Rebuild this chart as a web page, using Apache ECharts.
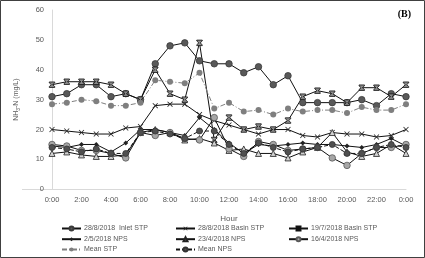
<!DOCTYPE html>
<html>
<head>
<meta charset="utf-8">
<script src="https://cdn.jsdelivr.net/npm/echarts@6/dist/echarts.min.js"></script>
<style>
	html, body { margin: 0; padding: 0; background: #fff; }
	#echart { width: 425px; height: 258px; }
</style>
</head>
<body>
<div id="echart"></div>
<script>
	// hourly samples, 0:00 .. 0:00 next day
	var hours = ['0:00','1:00','2:00','3:00','4:00','5:00','6:00','7:00','8:00','9:00','10:00','11:00',
		'12:00','13:00','14:00','15:00','16:00','17:00','18:00','19:00','20:00','21:00','22:00','23:00','0:00'];

	var inletSTP0828 = [31,32,35,35,31,32,30,42,48,49,43,42,42,39,41,35,38,29,29,29,29,30,28,32,31];
	var basinSTP0828 = [20,19.5,19,18.5,18.5,20.5,21,28,28.5,28.5,25,23,21.5,20,18.5,20,20,18,17.5,19,18.5,18.5,17.5,18,20];
	var basinSTP0719 = [35,36,36,36,35,32,30,40,32,30,49,16.5,24,20,21,20,23,31,33,32,29,34,34,31,35];
	var nps0205 = [14.5,14,15,15,12.5,15.5,20,20,19,18,24,20,15.5,12,15,14.5,15,15.5,15,15,14.5,14,15,17,14.5];
	var nps2304 = [12,12.5,11.5,11,11,11.5,19,20,19,16.5,17,15.5,13,13.5,12,12,10.5,12.5,14,19,12.5,11,12,15,12];
	var nps1604 = [15,14.5,13,13,12,10.5,19,18,19,17,16.5,24,13.5,11,16,15,13,13.5,14,10.5,8,12,14,14,15];
	var meanSTP = [28.5,29,30,29.5,28,28,29,36.5,36,35.5,39,27,29,26,26.5,25,27,26,26.5,26.5,25.5,27.5,26.5,26.5,28.5];
	var meanNPS = [14,13.5,12.5,13.5,12,12,19,19.5,18.5,17,19.5,19.5,15,12,15.5,14,12.5,13.5,14,15,12,12,14,15,14];

	// legend rows, 3 columns each
	var legendRows = [
		['28/8/2018  Inlet STP', '28/8/2018 Basin STP', '19/7/2018 Basin STP'],
		['2/5/2018 NPS', '23/4/2018 NPS', '16/4/2018 NPS'],
		['Mean STP', 'Mean NPS']
	];

	var yTicks = { min: 0, max: 60, interval: 10 };

	var txtColor = '#595959';
	var font = 'Liberation Sans, Arial, sans-serif';

	// marker shapes
	var xPath = 'path://M0,1L1,0L5,4L9,0L10,1L6,5L10,9L9,10L5,6L1,10L0,9L4,5Z';
	var bowPath = 'path://M0,0H10V1.6L6.2,5L10,8.4V10H0V8.4L3.8,5L0,1.6Z';

	/*
		build one line series
		@name, @data, @symbol, @size, @fill, @border, @lineType, @lineColor
	*/
	function mkSeries(name, data, symbol, size, fill, border, lineType, lineColor) {
		return {
			name: name,
			type: 'line',
			data: data,
			symbol: symbol,
			symbolSize: size,
			showAllSymbol: true,
			lineStyle: {
				color: lineColor || '#111',
				width: 1,
				type: lineType || 'solid'
			},
			itemStyle: {
				color: fill,
				borderColor: border,
				borderWidth: border ? 0.8 : 0
			}
		};
	}

	var chart = echarts.init(document.getElementById('echart'), null, { renderer: 'canvas' });

	// one legend per entry so the columns line up like a table
	var colLeft = [61, 175, 288];
	var rowTop = [225, 235.7, 246];
	var legends = [];
	for (var r = 0; r < legendRows.length; r++) {
		for (var c = 0; c < legendRows[r].length; c++) {
			legends.push({
				left: colLeft[c],
				top: rowTop[r],
				padding: 0,
				itemWidth: 19,
				itemHeight: 5,
				textStyle: { fontSize: 7, color: txtColor, fontFamily: font, padding: [0, 0, 0, -2] },
				data: [legendRows[r][c]]
			});
		}
	}

	var option = {
		animation: false,
		backgroundColor: '#fff',
		title: {
			text: '(B)',
			right: 9,
			top: 4,
			textStyle: { fontSize: 10, fontWeight: 'bold', color: '#000', fontFamily: 'Liberation Serif, Times New Roman, serif' }
		},
		grid: {
			left: 52,
			right: 19,
			top: 10,
			bottom: 68.7
		},
		legend: legends,
		xAxis: {
			type: 'category',
			boundaryGap: false,
			data: hours,
			name: 'Hour',
			nameLocation: 'middle',
			nameGap: 25,
			nameTextStyle: { fontSize: 8, color: txtColor, fontFamily: font },
			axisLine: { lineStyle: { color: '#d9d9d9', width: 1 } },
			axisTick: { show: false },
			axisLabel: { interval: 1, fontSize: 7.5, color: txtColor, fontFamily: font, margin: 7 },
			splitLine: { show: false }
		},
		yAxis: {
			type: 'value',
			min: yTicks.min,
			max: yTicks.max,
			interval: yTicks.interval,
			name: '{n|NH}{s|3}{n|-N (mg/L)}',
			nameLocation: 'middle',
			nameGap: 31,
			nameTextStyle: {
				color: txtColor,
				fontFamily: font,
				rich: {
					n: { fontSize: 7, color: txtColor, fontFamily: font },
					s: { fontSize: 5, color: txtColor, fontFamily: font, verticalAlign: 'bottom', padding: [4, 0, 0, 0] }
				}
			},
			axisLine: { show: true, lineStyle: { color: '#d9d9d9', width: 1 } },
			axisTick: { show: false },
			axisLabel: { fontSize: 7.5, color: txtColor, fontFamily: font, margin: 8 },
			splitLine: { show: false }
		},
		graphic: [
			{
				type: 'rect',
				shape: { x: 0.5, y: 0.5, width: 424, height: 257 },
				style: { fill: null, stroke: '#404040', lineWidth: 1 },
				silent: true
			},
			{
				type: 'line',
				shape: { x1: 22, y1: 189.5, x2: 52, y2: 189.5 },
				style: { stroke: '#d9d9d9', lineWidth: 1 },
				silent: true
			}
		],
		series: [
			mkSeries('28/8/2018  Inlet STP', inletSTP0828, 'circle', 6.5, '#595959', '#3a3a3a'),
			mkSeries('28/8/2018 Basin STP', basinSTP0828, xPath, 5.5, '#222', null),
			mkSeries('19/7/2018 Basin STP', basinSTP0719, bowPath, 5.5, '#8c8c8c', '#111'),
			mkSeries('2/5/2018 NPS', nps0205, 'diamond', 5, '#222', null),
			mkSeries('23/4/2018 NPS', nps2304, 'triangle', 6, '#d0d0d0', '#222'),
			mkSeries('16/4/2018 NPS', nps1604, 'circle', 6.5, '#a6a6a6', '#595959'),
			mkSeries('Mean STP', meanSTP, 'circle', 6, '#7f7f7f', null, [5, 2, 1, 2], '#7f7f7f'),
			mkSeries('Mean NPS', meanNPS, 'circle', 6, '#505050', '#333', [4, 2], '#111')
		]
	};

	chart.setOption(option);
</script>
</body>
</html>
